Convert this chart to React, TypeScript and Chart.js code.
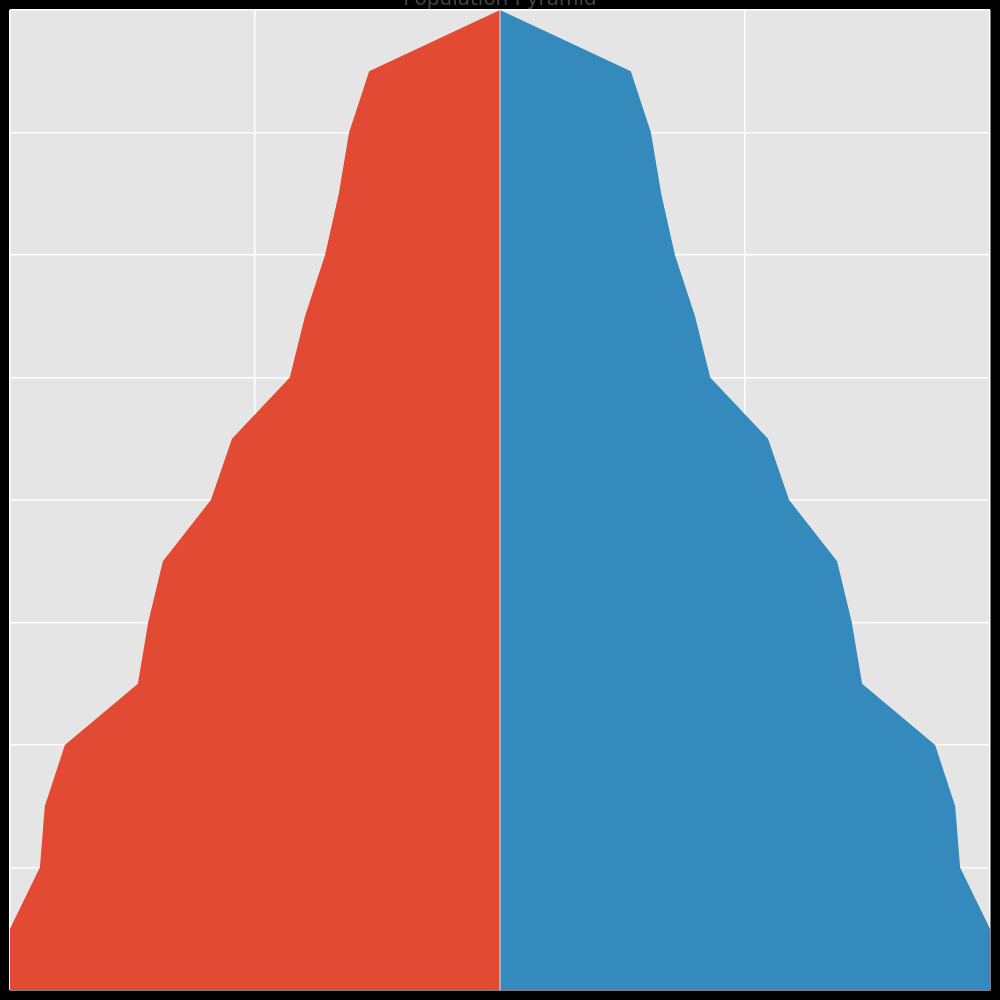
import { useEffect, useRef } from 'react'
import { Chart, registerables } from 'chart.js'

Chart.register(...registerables)

const ages = [0, 1, 2, 3, 4, 5, 6, 7, 8, 9, 10, 11, 12, 13, 14, 15, 16]
const male = [1.0, 1.0, 0.939, 0.929, 0.888, 0.739, 0.718, 0.688, 0.59, 0.547, 0.429, 0.398, 0.357, 0.329, 0.308, 0.267, 0]
const female = [1.0, 1.0, 0.939, 0.929, 0.888, 0.739, 0.718, 0.688, 0.59, 0.547, 0.429, 0.398, 0.357, 0.329, 0.308, 0.267, 0]

const bgPlugin = {
  id: 'bg',
  beforeDraw(chart: Chart) {
    const { ctx, chartArea: a } = chart
    ctx.save()
    ctx.fillStyle = '#e5e5e5'
    ctx.fillRect(a.left, a.top, a.right - a.left, a.bottom - a.top)
    ctx.restore()
  },
  afterDatasetsDraw(chart: Chart) {
    // thin white divider at x = 0, as in the reference
    const { ctx, chartArea: a, scales } = chart
    const x0 = scales.x.getPixelForValue(0)
    ctx.save()
    ctx.strokeStyle = 'rgba(255,255,255,0.8)'
    ctx.lineWidth = 1
    ctx.beginPath()
    ctx.moveTo(x0, a.top)
    ctx.lineTo(x0, a.bottom)
    ctx.stroke()
    ctx.restore()
  },
}

export default function App() {
  const canvasRef = useRef<HTMLCanvasElement>(null)

  useEffect(() => {
    document.body.style.margin = '0'
    if (!canvasRef.current) return
    const chart = new Chart(canvasRef.current, {
      type: 'line',
      data: {
        datasets: [
          {
            label: 'Male',
            data: ages.map((a, i) => ({ x: -male[i], y: a })),
            borderWidth: 0,
            pointRadius: 0,
            backgroundColor: '#e24a33',
            fill: 'origin',
          },
          {
            label: 'Female',
            data: ages.map((a, i) => ({ x: female[i], y: a })),
            borderWidth: 0,
            pointRadius: 0,
            backgroundColor: '#348abd',
            fill: 'origin',
          },
        ],
      },
      options: {
        indexAxis: 'y',
        responsive: false,
        animation: false,
        layout: { padding: 10 },
        scales: {
          x: {
            type: 'linear', min: -1, max: 1,
            ticks: { display: false, stepSize: 0.5 },
            grid: { color: '#ffffff', lineWidth: 1.5, drawTicks: false },
            border: { display: false },
          },
          y: {
            type: 'linear', min: 0, max: 16,
            ticks: { display: false, stepSize: 2 },
            grid: { color: '#ffffff', lineWidth: 1.5, drawTicks: false },
            border: { display: false },
          },
        },
        plugins: { legend: { display: false }, tooltip: { enabled: false } },
      },
      plugins: [bgPlugin],
    })
    return () => chart.destroy()
  }, [])

  return (
    <div style={{ position: 'relative', width: 1000, height: 1000, background: '#000', overflow: 'hidden' }}>
      <canvas ref={canvasRef} width={1000} height={1000} />
      <div style={{
        position: 'absolute', top: -14, left: 0, width: 1000, textAlign: 'center',
        fontFamily: 'DejaVu Sans', fontSize: 20, color: '#444',
      }}>
        Population Pyramid
      </div>
    </div>
  )
}
